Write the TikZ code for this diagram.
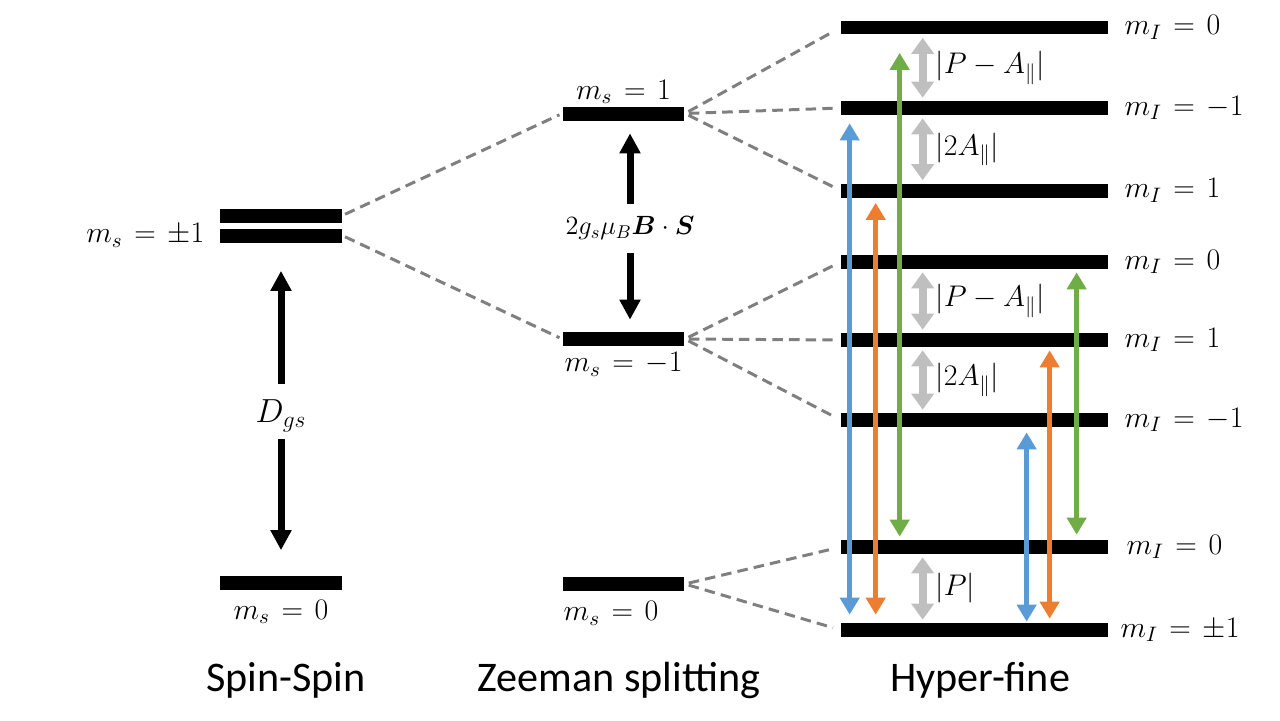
\RequirePackage{fix-cm}
\documentclass[tikz,border=0pt]{standalone}
\usepackage{amsmath}
\usepackage{amssymb}
\usepackage[no-math]{fontspec}
\newfontfamily\headfont{Carlito}
\usepackage{tikz}
\usetikzlibrary{arrows.meta, positioning}
\definecolor{lvlblue}{HTML}{5B9BD5}
\definecolor{lvlorange}{HTML}{ED7D31}
\definecolor{lvlgreen}{HTML}{70AD47}
\definecolor{gapgray}{HTML}{BFBFBF}
\definecolor{splitgray}{HTML}{7F7F7F}
\thickmuskip=7mu plus 2mu

\begin{document}
\begin{tikzpicture}[
    x=0.02cm, y=-0.02cm,
    every node/.style={font=\fontsize{17}{20}\selectfont},
    lvl/.style={rectangle, fill=black, inner sep=0pt, minimum width=2.44cm, minimum height=0.28cm},
    hflvl/.style={lvl, minimum width=5.34cm},
    headtxt/.style={font=\headfont\fontsize{24}{28}\selectfont},
    split/.style={draw=splitgray, line width=1.7pt, dash pattern=on 6pt off 3.5pt},
    gaparrow/.style={-{Triangle[width=0.4cm, length=0.4cm]}, line width=0.14cm},
    trans/.style={{Triangle[width=0.38cm, length=0.34cm]}-{Triangle[width=0.38cm, length=0.34cm]}, line width=0.1cm},
    hfgap/.style={{Triangle[width=0.44cm, length=0.32cm]}-{Triangle[width=0.44cm, length=0.32cm]}, line width=0.16cm, draw=gapgray, shorten <=0.06cm, shorten >=0.06cm}
]
\useasboundingbox (0,0) rectangle (1280,720);

% --- Spin-Spin ---
\node[lvl] (ssa) at (281,215.5) {};
\node[lvl] (ssb) at (281,235.5) {};
\node[lvl] (ss0) at (281,582.5) {};
\node[anchor=base east, inner sep=0pt] (lssp) at ([xshift=-0.3cm]ssb.south west) {$m_s = \pm 1$};
\node[below=0.08cm of ss0] (lss0) {$m_s = 0$};
\node[font=\fontsize{19}{22}\selectfont] (dgs) at (281,416) {$D_{gs}$};
\draw[gaparrow, shorten <=0.2cm, shorten >=0.56cm] (dgs) -- (dgs |- ssb.south);
\draw[gaparrow, shorten <=0.02cm, shorten >=0.5cm] (dgs) -- (dgs |- ss0.north);

% --- Zeeman splitting ---
\node[lvl] (zm1) at (623.5,113.5) {};
\node[lvl] (zm2) at (623.5,339) {};
\node[lvl] (zm0) at (623.5,584) {};
\node[above=-0.08cm of zm1] (lzm1) {$m_s = 1$};
\node[below=0cm of zm2] (lzm2) {$m_s = -1$};
\node[below=0.08cm of zm0, xshift=-0.25cm] (lzm0) {$m_s = 0$};
\node[font=\fontsize{15}{18}\selectfont] (zeeman) at (630,228) {$2g_s\mu_B\boldsymbol{B}\cdot\boldsymbol{S}$};
\draw[gaparrow, shorten <=0.12cm, shorten >=0.25cm] (zeeman) -- (zeeman |- zm1.south);
\draw[gaparrow, shorten <=0.14cm, shorten >=0.24cm] (zeeman) -- (zeeman |- zm2.north);

\draw[split, shorten <=0.06cm, shorten >=0.06cm] (ssa.east) -- (zm1.west);
\draw[split, shorten <=0.06cm, shorten >=0.06cm] (ssb.east) -- (zm2.west);

% --- Hyper-fine ---
\node[hflvl] (hf1) at (974.5,27.5) {};
\node[hflvl] (hf2) at (974.5,108) {};
\node[hflvl] (hf3) at (974.5,190.5) {};
\node[hflvl] (hf4) at (974.5,262) {};
\node[hflvl] (hf5) at (974.5,340) {};
\node[hflvl] (hf6) at (974.5,420) {};
\node[hflvl] (hf7) at (974.5,547) {};
\node[hflvl] (hf8) at (974.5,630) {};
\node[right=0.2cm of hf1] (lhf1) {$m_I = 0$};
\node[right=0.2cm of hf2] (lhf2) {$m_I = -1$};
\node[right=0.2cm of hf3] (lhf3) {$m_I = 1$};
\node[right=0.2cm of hf4] (lhf4) {$m_I = 0$};
\node[right=0.2cm of hf5] (lhf5) {$m_I = 1$};
\node[right=0.2cm of hf6] (lhf6) {$m_I = -1$};
\node[right=0.24cm of hf7] (lhf7) {$m_I = 0$};
\node[right=0.12cm of hf8] (lhf8) {$m_I = \pm 1$};

\draw[split, shorten <=0.08cm, shorten >=0.16cm] (zm1.east) -- (hf1.west);
\draw[split, shorten <=0.08cm, shorten >=0.16cm] (zm1.east) -- (hf2.west);
\draw[split, shorten <=0.08cm, shorten >=0.16cm] (zm1.east) -- (hf3.west);
\draw[split, shorten <=0.08cm, shorten >=0.16cm] (zm2.east) -- (hf4.west);
\draw[split, shorten <=0.08cm, shorten >=0.16cm] (zm2.east) -- (hf5.west);
\draw[split, shorten <=0.08cm, shorten >=0.16cm] (zm2.east) -- (hf6.west);
\draw[split, shorten <=0.08cm, shorten >=0.16cm] (zm0.east) -- (hf7.west);
\draw[split, shorten <=0.08cm, shorten >=0.16cm] (zm0.east) -- (hf8.west);

% gaps between sublevels
\draw[hfgap] ([xshift=1.64cm]hf1.south west) -- node[right, xshift=0.06cm, text=black] {$|P - A_{\parallel}|$} ([xshift=1.64cm]hf2.north west);
\draw[hfgap] ([xshift=1.64cm]hf2.south west) -- node[right, xshift=0.06cm, text=black] {$|2A_{\parallel}|$} ([xshift=1.64cm]hf3.north west);
\draw[hfgap] ([xshift=1.64cm]hf4.south west) -- node[right, xshift=0.06cm, text=black] {$|P - A_{\parallel}|$} ([xshift=1.64cm]hf5.north west);
\draw[hfgap] ([xshift=1.64cm]hf5.south west) -- node[right, xshift=0.06cm, text=black] {$|2A_{\parallel}|$} ([xshift=1.64cm]hf6.north west);
\draw[hfgap] ([xshift=1.64cm]hf7.south west) -- node[right, xshift=0.06cm, text=black] {$|P|$} ([xshift=1.64cm]hf8.north west);

% transitions
\draw[trans, lvlblue, shorten <=0.16cm, shorten >=0.16cm] ([xshift=0.18cm]hf2.south west) -- ([xshift=0.18cm]hf8.north west);
\draw[trans, lvlorange, shorten <=0.1cm, shorten >=0.16cm] ([xshift=0.7cm]hf3.south west) -- ([xshift=0.7cm]hf8.north west);
\draw[trans, lvlgreen, shorten <=0.36cm, shorten >=0.06cm] ([xshift=1.18cm]hf1.south west) -- ([xshift=1.18cm]hf7.north west);
\draw[trans, lvlblue, shorten <=0.1cm, shorten >=0.02cm] ([xshift=3.72cm]hf6.south west) -- ([xshift=3.72cm]hf8.north west);
\draw[trans, lvlorange, shorten <=0.06cm, shorten >=0.08cm] ([xshift=4.18cm]hf5.south west) -- ([xshift=4.18cm]hf8.north west);
\draw[trans, lvlgreen, shorten <=0.06cm, shorten >=0.1cm] ([xshift=4.72cm]hf4.south west) -- ([xshift=4.72cm]hf7.north west);

% --- Section labels ---
\node[headtxt] (tss) at (286,680) {Spin-Spin};
\node[headtxt] (tzm) at (619,680) {Zeeman splitting};
\node[headtxt] (thf) at (980,680) {Hyper-fine};
\end{tikzpicture}
\end{document}
